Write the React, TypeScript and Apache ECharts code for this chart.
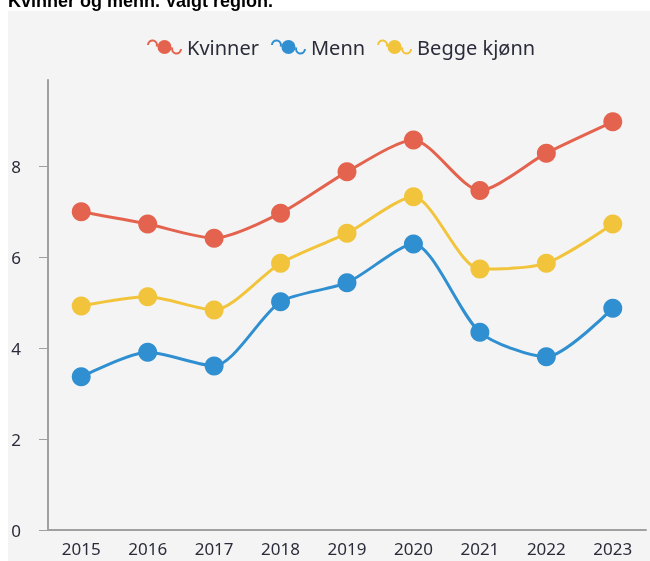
import React, { useEffect, useRef } from "react";
import * as echarts from "echarts";

const years = ["2015", "2016", "2017", "2018", "2019", "2020", "2021", "2022", "2023"];
const kvinner = [7.0, 6.73, 6.42, 6.97, 7.88, 8.58, 7.47, 8.29, 8.98];
const menn = [3.37, 3.91, 3.61, 5.02, 5.44, 6.29, 4.35, 3.81, 4.88];
const begge = [4.93, 5.13, 4.84, 5.87, 6.53, 7.33, 5.74, 5.87, 6.73];
const seriesNames = ["Kvinner", "Menn", "Begge kjønn"];
const colors = ["#E4634E", "#2F8FD0", "#F1C43C"];
const titleText = "Kvinner og menn. Valgt region.";

const legendIcon =
  "path://M11,11 A7,7 0 1 0 25,11 A7,7 0 1 0 11,11 Z " +
  "M0.5,9 A5.5,5.5 0 1 1 11.17,10.88 L9.29,10.2 A3.5,3.5 0 1 0 2.5,9 Z " +
  "M35.5,13 A5.5,5.5 0 1 1 24.83,11.12 L26.71,11.8 A3.5,3.5 0 1 0 33.5,13 Z";

const font = "'Noto Sans', 'DejaVu Sans', sans-serif";
const textColor = "#2b2b3a";

export default function App() {
  const ref = useRef<HTMLDivElement>(null);
  useEffect(() => {
    if (!ref.current) return;
    const chart = echarts.init(ref.current, null, { renderer: "svg" });
    const data = [kvinner, menn, begge];
    chart.setOption({
      animation: false,
      graphic: [
        {
          type: "rect",
          silent: true,
          z: -10,
          shape: { x: 8, y: 11, width: 642, height: 550 },
          style: { fill: "#f4f4f4" },
        },
        {
          type: "text",
          x: 8,
          y: 10,
          style: {
            text: titleText,
            fill: "#000",
            font: "bold 18px 'Liberation Sans', Arial, sans-serif",
            verticalAlign: "bottom",
          },
        },
      ],
      legend: {
        top: 32,
        left: 142,
        itemWidth: 35,
        itemHeight: 22,
        itemGap: 12,
        icon: legendIcon,
        textStyle: { fontFamily: font, fontSize: 20, color: textColor },
        data: seriesNames.map((n) => ({ name: n, icon: legendIcon })),
      },
      grid: { left: 48, right: 4, top: 80, bottom: 31, containLabel: false },
      xAxis: {
        type: "category",
        data: years,
        boundaryGap: true,
        axisLine: { lineStyle: { color: "#a0a0a0", width: 2 } },
        axisTick: { alignWithLabel: true, length: 3, lineStyle: { color: "#a0a0a0" } },
        axisLabel: { fontFamily: font, fontSize: 17, color: textColor, margin: 10 },
      },
      yAxis: {
        type: "value",
        min: 0,
        max: 9.9,
        interval: 2,
        splitLine: { show: false },
        axisLine: { show: true, lineStyle: { color: "#a0a0a0", width: 2 } },
        axisTick: { show: true, length: 9, lineStyle: { color: "#a0a0a0" } },
        axisLabel: { fontFamily: font, fontSize: 17, color: textColor, margin: 27, showMaxLabel: false },
      },
      series: seriesNames.map((name, i) => ({
        name,
        type: "line",
        data: data[i],
        smooth: 0.25,
        symbol: "circle",
        symbolSize: 19,
        itemStyle: { color: colors[i] },
        lineStyle: { color: colors[i], width: 3 },
      })),
    });
    return () => chart.dispose();
  }, []);
  return (
    <div
      ref={ref}
      style={{ position: "fixed", left: 0, top: 0, width: 650, height: 561 }}
    />
  );
}
